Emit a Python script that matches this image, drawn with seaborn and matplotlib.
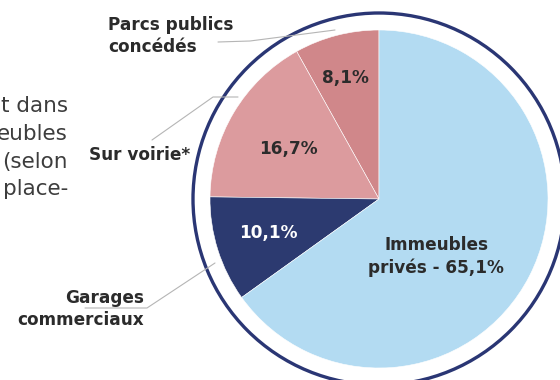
import matplotlib
matplotlib.use("Agg")
import matplotlib.pyplot as plt
from matplotlib.patches import Circle
import seaborn as sns

# Répartition des places de stationnement
categories = ["Parcs publics concédés", "Sur voirie*", "Garages commerciaux", "Immeubles privés"]
shares = [8.1, 16.7, 10.1, 65.1]
slice_colors = ["#d0878a", "#dc9b9e", "#2c3a70", "#b3dbf2"]

sns.set_style("white")
plt.rcParams["font.family"] = ["DejaVu Sans"]

W, H = 560, 380
fig = plt.figure(figsize=(W / 100, H / 100), dpi=100)
ax = fig.add_axes([0, 0, 1, 1])

cx, cy, r = 379, H - 199, 169
palette = sns.color_palette(slice_colors)
wedges, _ = ax.pie(shares, colors=palette, startangle=90, counterclock=True,
                   center=(cx, cy), radius=r,
                   wedgeprops=dict(edgecolor="white", linewidth=0.4))

ax.set_xlim(0, W)
ax.set_ylim(0, H)
ax.set_aspect("equal")
ax.axis("off")

# anneau extérieur
ax.add_patch(Circle((cx, cy), 186, fill=False, edgecolor="#2a3674", linewidth=2.4))

def fmt(v):
    return f"{v:.1f}%".replace(".", ",")

dark = "#2b2b2b"
fs = 12.2
bold = dict(fontweight="bold", color=dark, fontsize=fs)

def y(p):
    return H - p

# valeurs dans les parts
ax.text(345, y(83), fmt(shares[0]), ha="center", va="baseline", **bold)
ax.text(288, y(154), fmt(shares[1]), ha="center", va="baseline", **bold)
ax.text(268, y(238), fmt(shares[2]), ha="center", va="baseline",
        fontweight="bold", color="white", fontsize=fs)
ax.text(436, y(250), "Immeubles", ha="center", va="baseline", **bold)
ax.text(436, y(273), "privés - " + fmt(shares[3]), ha="center", va="baseline", **bold)

# étiquettes extérieures
ax.text(108, y(30), "Parcs publics", ha="left", va="baseline", **bold)
ax.text(108, y(52), "concédés", ha="left", va="baseline", **bold)
ax.text(89, y(160), "Sur voirie*", ha="left", va="baseline", **bold)
ax.text(144, y(303), "Garages", ha="right", va="baseline", **bold)
ax.text(144, y(325), "commerciaux", ha="right", va="baseline", **bold)

# traits de rappel
lead = dict(color="#b5b5b5", linewidth=0.8)
ax.plot([218, 250, 335], [y(42), y(41), y(30)], **lead)
ax.plot([152, 213, 238], [y(140), y(97), y(97)], **lead)
ax.plot([85, 147, 215], [y(308), y(308), y(263)], **lead)

# texte de paragraphe adjacent
para = ["t dans", "eubles", "(selon", "place-"]
for line, base in zip(para, [112, 140, 168, 195]):
    ax.text(68, y(base), line, ha="right", va="baseline",
            fontsize=15.5, color="#3d3d3d")

fig.savefig("out.png", dpi=100)
